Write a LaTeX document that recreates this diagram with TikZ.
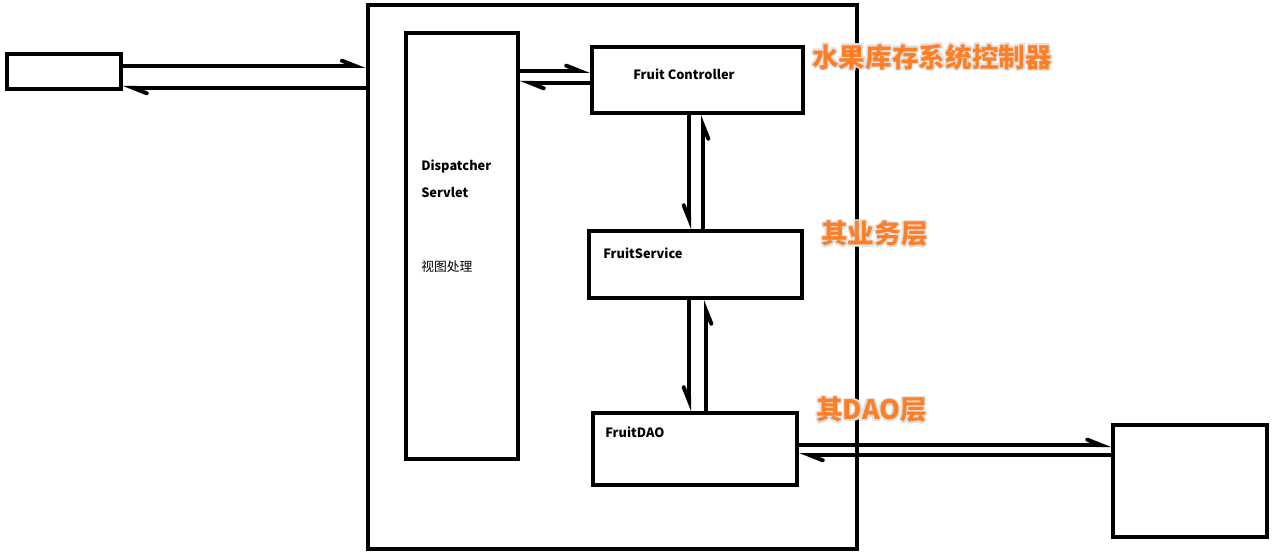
\documentclass[tikz,border=0pt]{standalone}
\usepackage{fontspec}
\newfontfamily\cjk{Noto Sans CJK SC}
\usetikzlibrary{arrows.meta,fit}
\definecolor{paintorange}{RGB}{255,127,39}
\definecolor{glowgray}{RGB}{226,226,226}

\tikzset{
  box/.style={draw, line width=3pt, inner sep=0pt},
  conn/.style={line width=3pt, -{Straight Barb[harpoon,length=10pt,width=8pt,line cap=round]}},
  connsw/.style={line width=3pt, -{Straight Barb[harpoon,swap,length=10pt,width=8pt,line cap=round]}},
  txt/.style={anchor=west, inner sep=0pt, font=\cjk\bfseries\fontsize{9.6}{11}\selectfont},
  txtcjk/.style={anchor=west, inner sep=0pt, font=\cjk\fontsize{9.6}{11}\selectfont},
  orangelbl/.style={anchor=west, inner sep=0pt, text=paintorange, font=\cjk\bfseries\fontsize{20}{22}\selectfont},
}

% orange caption with a soft grey halo: name, x, y, text
\newcommand\haloLabel[4]{%
  \foreach \dx/\dy in {-1.6/0,1.6/0,0/-1.6,0/1.6,-1.2/-1.2,1.2/1.2,-1.2/1.2,1.2/-1.2}
    \node[orangelbl, text=glowgray] at (#2+\dx,#3+\dy) {#4};
  \node[orangelbl] (#1) at (#2,#3) {#4};
}

\begin{document}
\begin{tikzpicture}[x=0.75pt, y=-0.75pt]
\useasboundingbox[fill=white] (0,0) rectangle (1277,552);

% boxes
\node[box, fit={(7,54) (121,89)}] (client) {};
\node[box, line width=3.4pt, fit={(368,5) (857,549)}] (frame) {};
\node[box, fit={(406,33) (518,459)}] (dispatcher) {};
\node[box, fit={(592,47) (803,113)}] (controller) {};
\node[box, fit={(589,231) (802,298)}] (service) {};
\node[box, fit={(593,413) (797,485)}] (dao) {};
\node[box, fit={(1113,425) (1267,537)}] (db) {};

% box texts
\node[txt] (ctrltxt) at (633,74) {Fruit Controller};
\node[txt] (disptxt) at (421,167) {Dispatcher};
\node[txt] (servtxt) at (421,192) {Servlet};
\node[txtcjk] (viewtxt) at (421,267) {视图处理};
\node[txt] (srvtxt) at (603,253) {FruitService};
\node[txt] (daotxt) at (605,432) {FruitDAO};

% captions
\haloLabel{capctrl}{812}{57}{水果库存系统控制器}
\haloLabel{capsrv}{821}{234}{其业务层}
\haloLabel{capdao}{816}{410}{其DAO层}

% connectors
\draw[conn] (client.east |- 0,66) -- (frame.west |- 0,66);
\draw[conn] (frame.west |- 0,88) -- (client.east |- 0,88);

\draw[conn] (dispatcher.east |- 0,71) -- (controller.west |- 0,71);
\draw[conn] (controller.west |- 0,83) -- (dispatcher.east |- 0,83);

\draw[connsw] (controller.south -| 689,0) -- (service.north -| 689,0);
\draw[connsw] (service.north -| 703,0) -- (controller.south -| 703,0);

\draw[connsw] (service.south -| 689,0) -- (dao.north -| 689,0);
\draw[connsw] (dao.north -| 706,0) -- (service.south -| 706,0);

\draw[conn] (dao.east |- 0,445) -- (db.west |- 0,445);
\draw[conn] (db.west |- 0,455) -- (dao.east |- 0,455);
\end{tikzpicture}
\end{document}
